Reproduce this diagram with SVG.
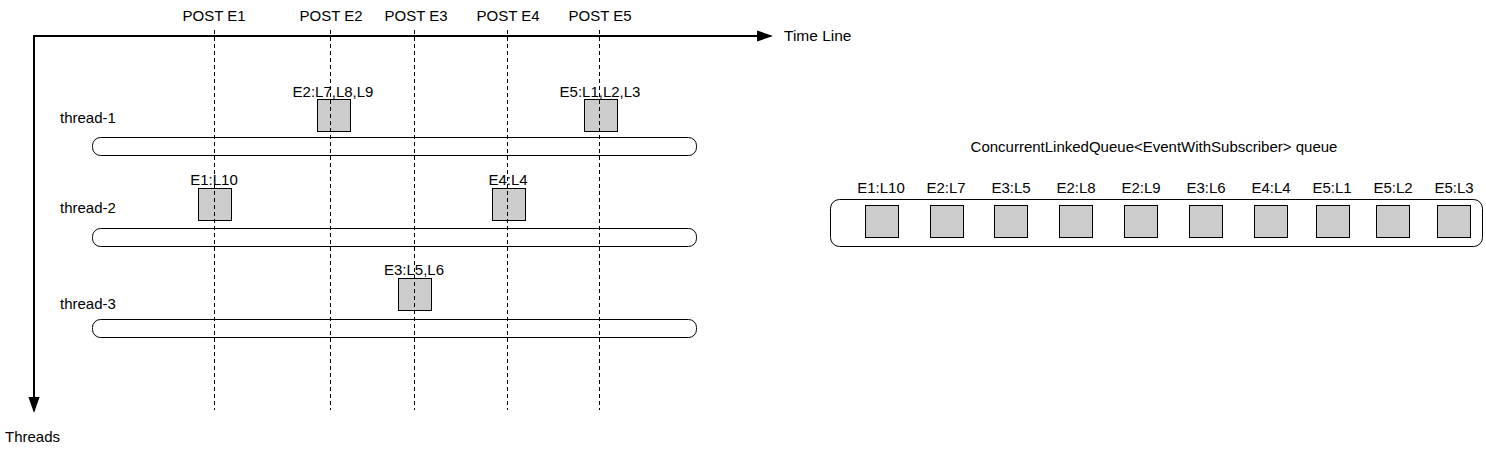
<svg xmlns="http://www.w3.org/2000/svg" width="1486" height="451" viewBox="0 0 1486 451">
<style>
text{font-family:"Liberation Sans",Arial,sans-serif;font-size:15px;fill:#000}
.c{text-anchor:middle}
.bar{fill:#fff;stroke:#000;stroke-width:1}
.box{fill:#ccc;stroke:#000;stroke-width:1}
.axis{stroke:#000;stroke-width:2;fill:none}
.dash{stroke:#000;stroke-width:1;stroke-dasharray:4 3;fill:none}
</style>
<defs>
<marker id="ah" markerWidth="8" markerHeight="6" refX="7" refY="2.8" orient="auto" markerUnits="strokeWidth">
<path d="M0,0 L8,2.8 L0,5.6 Z" fill="#000"/>
</marker>
</defs>
<rect width="1486" height="451" fill="#fff"/>
<g id="labels-top">
<text class="c" x="214" y="21">POST E1</text>
<text class="c" x="331" y="21">POST E2</text>
<text class="c" x="416" y="21">POST E3</text>
<text class="c" x="508" y="21">POST E4</text>
<text class="c" x="600" y="21">POST E5</text>
<text x="784" y="41" style="font-size:15.5px">Time Line</text>
<text x="5" y="442">Threads</text>
</g>
<g id="thread-1">
<text x="60" y="123">thread-1</text>
<rect class="bar" x="92.5" y="137.5" width="604" height="18" rx="8"/>
</g>
<g id="thread-2">
<text x="60" y="213">thread-2</text>
<rect class="bar" x="92.5" y="228.5" width="604" height="18" rx="8"/>
</g>
<g id="thread-3">
<text x="60" y="309">thread-3</text>
<rect class="bar" x="92.5" y="319.5" width="604" height="18" rx="8"/>
</g>
<g id="task-e2">
<rect class="box" x="317.5" y="99.5" width="33" height="32"/>
<text class="c" x="333" y="97">E2:L7,L8,L9</text>
</g>
<g id="task-e5">
<rect class="box" x="584.5" y="99.5" width="33" height="32"/>
<text class="c" x="600" y="97">E5:L1,L2,L3</text>
</g>
<g id="task-e1">
<rect class="box" x="198.5" y="188.5" width="33" height="32"/>
<text class="c" x="214" y="185">E1:L10</text>
</g>
<g id="task-e4">
<rect class="box" x="492.5" y="188.5" width="33" height="32"/>
<text class="c" x="508" y="185">E4:L4</text>
</g>
<g id="task-e3">
<rect class="box" x="398.5" y="278.5" width="33" height="32"/>
<text class="c" x="414" y="275">E3:L5,L6</text>
</g>
<g id="connectors">
<line class="axis" x1="33" y1="36" x2="771" y2="36" marker-end="url(#ah)"/>
<line class="axis" x1="34" y1="35" x2="34" y2="411" marker-end="url(#ah)"/>
<line class="dash" x1="214.5" y1="30" x2="214.5" y2="410"/>
<line class="dash" x1="330.5" y1="30" x2="330.5" y2="410"/>
<line class="dash" x1="414.5" y1="30" x2="414.5" y2="410"/>
<line class="dash" x1="507.5" y1="30" x2="507.5" y2="410"/>
<line class="dash" x1="599.5" y1="30" x2="599.5" y2="410"/>
</g>
<g id="queue">
<text class="c" x="1154" y="152">ConcurrentLinkedQueue&lt;EventWithSubscriber&gt; queue</text>
<rect class="bar" x="830.5" y="199.5" width="652" height="47" rx="9"/>
</g>
<g id="q1"><text class="c" x="881" y="193">E1:L10</text><rect class="box" x="865.5" y="205.5" width="33" height="32"/></g>
<g id="q2"><text class="c" x="946" y="193">E2:L7</text><rect class="box" x="930.5" y="205.5" width="33" height="32"/></g>
<g id="q3"><text class="c" x="1011" y="193">E3:L5</text><rect class="box" x="994.5" y="205.5" width="33" height="32"/></g>
<g id="q4"><text class="c" x="1076" y="193">E2:L8</text><rect class="box" x="1059.5" y="205.5" width="33" height="32"/></g>
<g id="q5"><text class="c" x="1141" y="193">E2:L9</text><rect class="box" x="1124.5" y="205.5" width="33" height="32"/></g>
<g id="q6"><text class="c" x="1206" y="193">E3:L6</text><rect class="box" x="1189.5" y="205.5" width="33" height="32"/></g>
<g id="q7"><text class="c" x="1271" y="193">E4:L4</text><rect class="box" x="1254.5" y="205.5" width="33" height="32"/></g>
<g id="q8"><text class="c" x="1332" y="193">E5:L1</text><rect class="box" x="1316.5" y="205.5" width="33" height="32"/></g>
<g id="q9"><text class="c" x="1393" y="193">E5:L2</text><rect class="box" x="1376.5" y="205.5" width="33" height="32"/></g>
<g id="q10"><text class="c" x="1454" y="193">E5:L3</text><rect class="box" x="1437.5" y="205.5" width="33" height="32"/></g>
</svg>
